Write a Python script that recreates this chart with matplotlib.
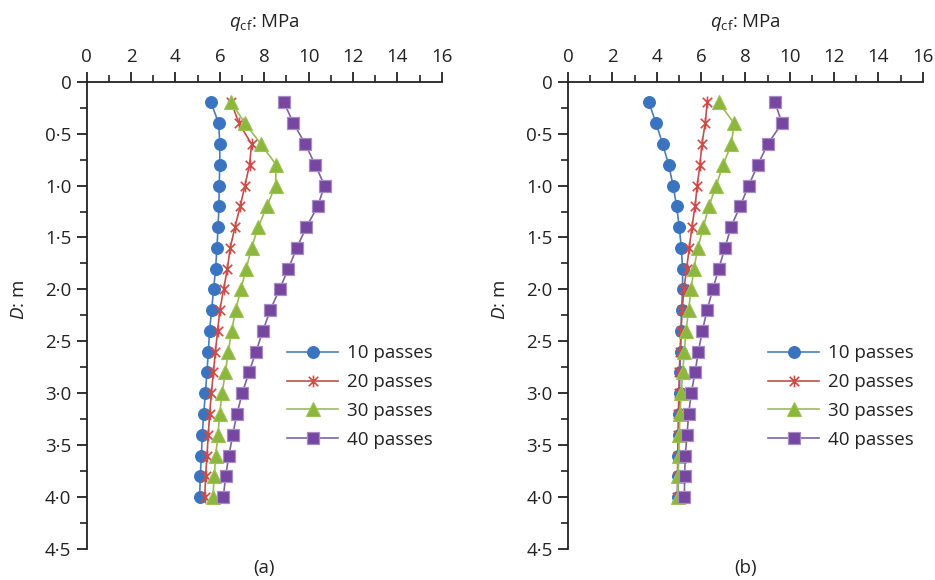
import matplotlib
matplotlib.use("Agg")
import matplotlib.pyplot as plt
from matplotlib.path import Path
from matplotlib.ticker import MultipleLocator, FixedLocator

plt.rcParams['font.family'] = ['Open Sans', 'DejaVu Sans']
plt.rcParams['mathtext.fontset'] = 'custom'
plt.rcParams['mathtext.rm'] = 'Open Sans'
plt.rcParams['mathtext.it'] = 'Open Sans:italic'

# ---------------- data ----------------
depth = [0.2, 0.4, 0.6, 0.8, 1.0, 1.2, 1.4, 1.6, 1.8, 2.0,
         2.2, 2.4, 2.6, 2.8, 3.0, 3.2, 3.4, 3.6, 3.8, 4.0]

series_labels = ["10 passes", "20 passes", "30 passes", "40 passes"]

# panel (a)
a_10 = [5.60, 5.95, 6.00, 6.00, 5.97, 5.96, 5.92, 5.87, 5.81, 5.72,
        5.63, 5.54, 5.48, 5.42, 5.35, 5.27, 5.21, 5.17, 5.12, 5.09]
a_20 = [6.52, 6.86, 7.43, 7.34, 7.13, 6.92, 6.68, 6.47, 6.34, 6.17,
        6.00, 5.90, 5.80, 5.71, 5.62, 5.54, 5.48, 5.42, 5.36, 5.32]
a_30 = [6.52, 7.13, 7.85, 8.54, 8.51, 8.12, 7.73, 7.43, 7.19, 6.95,
        6.71, 6.53, 6.38, 6.25, 6.10, 5.99, 5.92, 5.81, 5.75, 5.69]
a_40 = [8.89, 9.32, 9.85, 10.30, 10.72, 10.41, 9.90, 9.47, 9.09, 8.69,
        8.27, 7.94, 7.63, 7.31, 7.01, 6.77, 6.58, 6.41, 6.26, 6.16]

# panel (b)
b_10 = [3.65, 3.97, 4.27, 4.54, 4.74, 4.90, 5.02, 5.11, 5.17, 5.17,
        5.12, 5.10, 5.08, 5.05, 5.03, 5.00, 5.00, 4.98, 4.97, 4.97]
b_20 = [6.28, 6.19, 6.04, 5.95, 5.83, 5.73, 5.59, 5.47, 5.35, 5.23,
        5.15, 5.10, 5.05, 5.02, 5.00, 4.98, 4.96, 4.95, 4.94, 4.93]
b_30 = [6.80, 7.49, 7.37, 7.00, 6.68, 6.36, 6.10, 5.86, 5.68, 5.55,
        5.44, 5.32, 5.25, 5.17, 5.11, 5.05, 5.02, 4.99, 4.96, 4.95]
b_40 = [9.34, 9.65, 9.01, 8.56, 8.15, 7.76, 7.35, 7.08, 6.80, 6.53,
        6.27, 6.06, 5.88, 5.73, 5.56, 5.44, 5.37, 5.29, 5.26, 5.25]

x_ticks = [0, 2, 4, 6, 8, 10, 12, 14, 16]
y_ticks = [0, 0.5, 1.0, 1.5, 2.0, 2.5, 3.0, 3.5, 4.0, 4.5]
y_tick_labels = ["0", "0·5", "1·0", "1·5", "2·0", "2·5", "3·0", "3·5", "4·0", "4·5"]
panel_labels = ["(a)", "(b)"]

# ---------------- styles ----------------
star = Path([(-1, -1), (1, 1), (-1, 1), (1, -1), (0, -1.25), (0, 1.25)],
            [Path.MOVETO, Path.LINETO, Path.MOVETO, Path.LINETO, Path.MOVETO, Path.LINETO])

styles = [
    dict(color='#4A7EBB', marker='o', markersize=8.5, markerfacecolor='#3A74C0',
         markeredgecolor='#3A74C0', markeredgewidth=0.8),
    dict(color='#C0504D', marker=star, markersize=8.5, markerfacecolor='none',
         markeredgecolor='#D04A46', markeredgewidth=1.2),
    dict(color='#9BBB59', marker='^', markersize=9.5, markerfacecolor='#8CB63C',
         markeredgecolor='#9BC255', markeredgewidth=0.8),
    dict(color='#8064A2', marker='s', markersize=8.3, markerfacecolor='#7646A0',
         markeredgecolor='#A58DC6', markeredgewidth=0.9),
]

W, H = 935, 580
fig = plt.figure(figsize=(W / 100, H / 100), dpi=100)

panels = [
    (86.7, 441.7, [a_10, a_20, a_30, a_40]),
    (568.0, 922.7, [b_10, b_20, b_30, b_40]),
]
top_px, bot_px = 81.7, 549.0

FS = 13.5
TXT = '#222222'
for i, (lpx, rpx, data) in enumerate(panels):
    ax = fig.add_axes([lpx / W, 1 - bot_px / H, (rpx - lpx) / W, (bot_px - top_px) / H])
    for vals, st, lab in zip(data, styles, series_labels):
        ax.plot(vals, depth, linewidth=1.2, label=lab, **st)
    ax.set_xlim(0, 16)
    ax.set_ylim(4.5, 0)
    ax.xaxis.tick_top()
    ax.xaxis.set_label_position('top')
    ax.xaxis.set_major_locator(FixedLocator(x_ticks))
    ax.xaxis.set_minor_locator(MultipleLocator(1))
    ax.set_xticklabels([str(t) for t in x_ticks])
    ax.yaxis.set_major_locator(FixedLocator(y_ticks))
    ax.yaxis.set_minor_locator(MultipleLocator(0.25))
    ax.set_yticklabels(y_tick_labels)
    for s in ['right', 'bottom']:
        ax.spines[s].set_visible(False)
    for s in ['left', 'top']:
        ax.spines[s].set_linewidth(1.3)
        ax.spines[s].set_color(TXT)
    ax.tick_params(which='major', direction='out', length=7, width=1.3, color=TXT,
                   labelsize=FS, pad=4, labelcolor=TXT)
    ax.tick_params(which='minor', direction='out', length=5, width=1.2, color=TXT)
    ax.set_xlabel(r'$q_{\mathrm{cf}}$: MPa', fontsize=FS, color=TXT)
    ax.xaxis.set_label_coords(0.5, 1.118)
    ax.set_ylabel(r'$D$: m', fontsize=FS, color=TXT)
    ax.yaxis.set_label_coords(-0.165, 0.532)
    ax.patch.set_visible(False)

    leg_x = (287 if i == 0 else 768) / W
    ax.legend(loc='center left', bbox_to_anchor=(leg_x, 1 - 396.5 / H),
              bbox_transform=fig.transFigure, frameon=False, fontsize=FS,
              handlelength=2.72, handletextpad=0.48, labelspacing=0.57,
              borderpad=0, borderaxespad=0, labelcolor=TXT)

    fig.text((lpx + rpx) / 2 / W, 1 - 568 / H, panel_labels[i], ha='center', va='center',
             fontsize=FS, color=TXT)

fig.savefig('out.png', dpi=100)
